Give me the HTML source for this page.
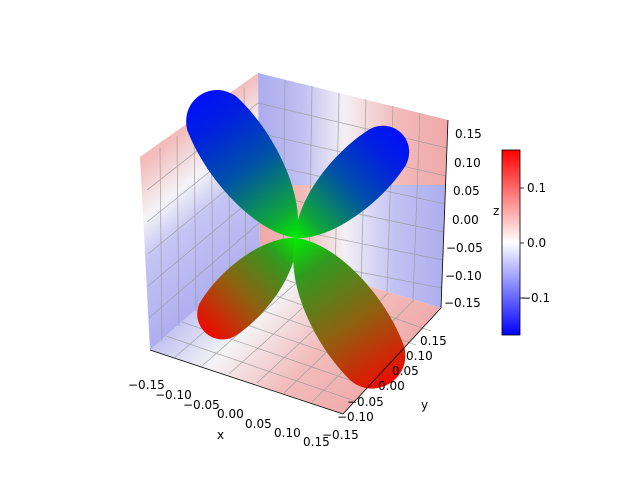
<!DOCTYPE html><html><head><style>body{margin:0;background:#fff}svg{display:block}text{font-family:"DejaVu Sans","Liberation Sans",sans-serif;font-size:12px;fill:#000}</style></head><body>
<svg width="640" height="480" viewBox="0 0 640 480">
<defs>
<linearGradient id="lp" x1="0" y1="0" x2="0.35" y2="1"><stop offset="0" stop-color="#f2a8a8"/><stop offset="0.3" stop-color="#f4bcbc"/><stop offset="0.48" stop-color="#f4f4f8"/><stop offset="0.62" stop-color="#c4c4f4"/><stop offset="1" stop-color="#a8a8ee"/></linearGradient>
<linearGradient id="rpH" x1="0" y1="0" x2="1" y2="0"><stop offset="0" stop-color="#a8a8ee"/><stop offset="0.25" stop-color="#c0c0f2"/><stop offset="0.45" stop-color="#f4f0f4"/><stop offset="0.7" stop-color="#f2baba"/><stop offset="1" stop-color="#f0a4a4"/></linearGradient>
<linearGradient id="rpV" x1="0" y1="0" x2="1" y2="0"><stop offset="0" stop-color="#f0a4a4"/><stop offset="0.25" stop-color="#f2baba"/><stop offset="0.45" stop-color="#f4f0f4"/><stop offset="0.7" stop-color="#c0c0f2"/><stop offset="1" stop-color="#a8a8ee"/></linearGradient>
<linearGradient id="fl" x1="0" y1="0" x2="1" y2="0.5"><stop offset="0" stop-color="#a8a8ee"/><stop offset="0.25" stop-color="#c4c4f2"/><stop offset="0.45" stop-color="#f4f4f6"/><stop offset="0.7" stop-color="#f2bcbc"/><stop offset="1" stop-color="#f0a8a8"/></linearGradient>
<linearGradient id="cb" x1="0" y1="1" x2="0" y2="0"><stop offset="0" stop-color="#0000ff"/><stop offset="0.5" stop-color="#ffffff"/><stop offset="1" stop-color="#ff0000"/></linearGradient>
<linearGradient id="gb" x1="0" y1="0" x2="1" y2="0"><stop offset="0" stop-color="#00ee00"/><stop offset="0.15" stop-color="#10a838"/><stop offset="0.5" stop-color="#0050a8"/><stop offset="0.8" stop-color="#0020e0"/><stop offset="1" stop-color="#0010f8"/></linearGradient>
<linearGradient id="gr" x1="0" y1="0" x2="1" y2="0"><stop offset="0" stop-color="#00ee00"/><stop offset="0.2" stop-color="#309a20"/><stop offset="0.6" stop-color="#906010"/><stop offset="1" stop-color="#f00a00"/></linearGradient>
<clipPath id="rc"><polygon points="258,73 448,120 441,308 260,253"/></clipPath>
<path id="lobe" d="M0,0 C15,-30 55,-42 85,-30 C102,-20 102,20 85,30 C55,42 15,30 0,0Z"/>
</defs>
<polygon points="140,157 258,73 260,253 150,350" fill="url(#lp)"/>
<g clip-path="url(#rc)">
<rect x="250" y="60" width="210" height="130" fill="url(#rpH)"/>
<rect x="250" y="185" width="210" height="140" fill="url(#rpV)"/>
</g>
<polygon points="150,350 260,253 441,308 343,414" fill="url(#fl)"/>
<g stroke="#999" stroke-width="0.8" fill="none" opacity="0.8">
<path d="M147,190 L258,103 M147,222 L258,133 M148,254 L259,163 M148,286 L259,193 M149,318 L259,223"/>
<path d="M160,148 L162,341 M177,136 L179,326 M194,124 L196,311 M211,111 L213,296 M228,99 L230,281 M244,87 L246,267"/>
<path d="M285,80 L283,261 M312,86 L309,269 M339,93 L335,277 M366,99 L361,285 M393,106 L387,292 M420,113 L413,300"/>
<path d="M258,103 L447,148 M258,133 L446,176 M259,163 L445,204 M259,193 L444,232 M259,223 L443,260 M260,253 L442,288"/>
<path d="M166,336 L355,401 M182,322 L370,387 M198,308 L386,373 M215,294 L401,359 M231,280 L416,345 M247,266 L431,331"/>
<path d="M175,357 L285,262 M202,366 L311,270 M229,374 L337,277 M257,383 L362,285 M284,393 L388,293 M312,402 L414,300"/>
</g>
<g transform="translate(296,238)">
<use href="#lobe" fill="url(#gb)" transform="rotate(-124) scale(1.76,1.0)"/>
<use href="#lobe" fill="url(#gb)" transform="rotate(-44.7) scale(1.52,0.85)"/>
<use href="#lobe" fill="url(#gr)" transform="rotate(134) scale(1.34,0.8)"/>
<use href="#lobe" fill="url(#gr)" transform="rotate(57) scale(1.77,1.05)"/>
</g>
<g stroke="#000" stroke-width="0.8">
<line x1="448" y1="120" x2="441" y2="308"/>
<line x1="150" y1="350" x2="343" y2="414"/>
<line x1="343" y1="414" x2="441" y2="308"/>
</g>
<g font-size="12">
<text x="455" y="138">0.15</text><text x="454" y="167">0.10</text><text x="453" y="195">0.05</text><text x="452" y="224">0.00</text><text x="446" y="252">−0.05</text><text x="445" y="280">−0.10</text><text x="444" y="307">−0.15</text>
<text x="493" y="215">z</text>
<text x="128" y="389">−0.15</text><text x="155" y="399">−0.10</text><text x="183" y="409">−0.05</text><text x="217" y="418">0.00</text><text x="245" y="428">0.05</text><text x="274" y="437">0.10</text><text x="303" y="446">0.15</text>
<text x="217" y="439">x</text>
<text x="420" y="345">0.15</text><text x="406" y="360">0.10</text><text x="392" y="375">0.05</text><text x="378" y="390">0.00</text><text x="347" y="406">−0.05</text><text x="337" y="421">−0.10</text><text x="322" y="439">−0.15</text>
<text x="421" y="409">y</text>
</g>
<rect x="502" y="150" width="18" height="185" fill="url(#cb)" stroke="#000" stroke-width="0.8"/>
<g stroke="#000" stroke-width="0.8"><line x1="520" y1="188" x2="524" y2="188"/><line x1="520" y1="243" x2="524" y2="243"/><line x1="520" y1="298" x2="524" y2="298"/></g>
<text x="527" y="192">0.1</text><text x="527" y="247">0.0</text><text x="521" y="302">−0.1</text>
</svg></body></html>
